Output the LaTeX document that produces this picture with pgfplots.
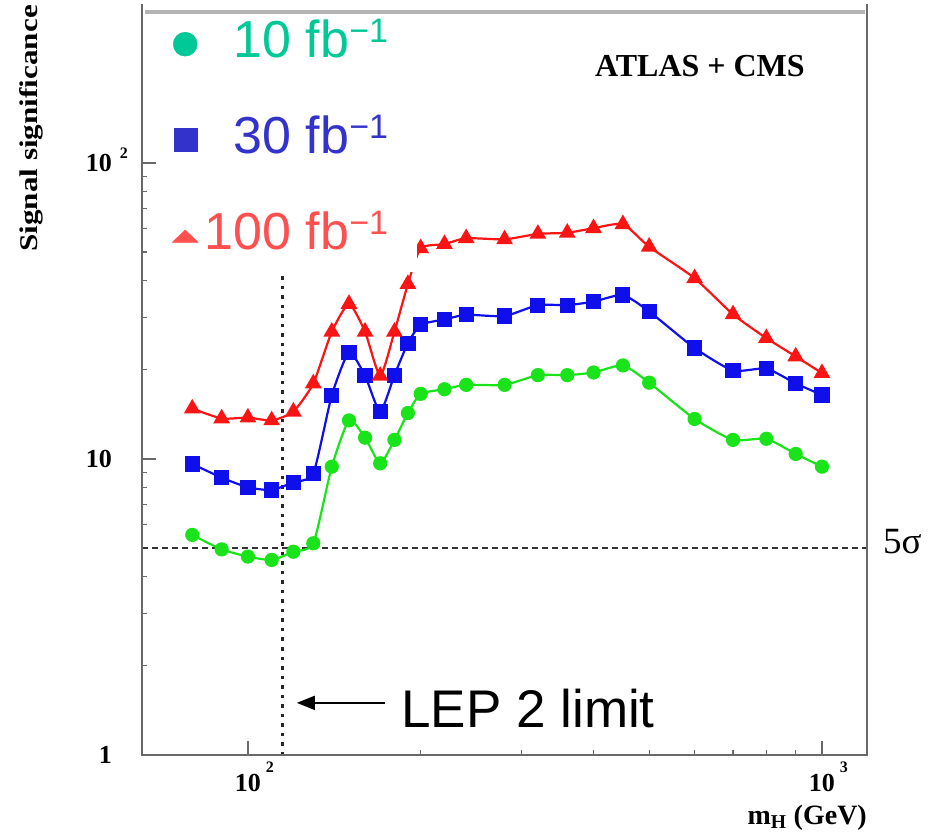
\documentclass[border=0pt]{standalone}
\usepackage{fontspec}
\setmainfont{Liberation Serif}
\newfontfamily\arial{Liberation Sans}
\usepackage{graphicx}
\usepackage{pgfplots}
\usepackage{pgfplotstable}
\pgfplotsset{compat=1.18}
\usetikzlibrary{arrows.meta}

\definecolor{cGreen}{RGB}{25,228,25}
\definecolor{cBlue}{RGB}{15,15,235}
\definecolor{cRed}{RGB}{250,20,20}
\definecolor{lGreen}{RGB}{0,200,150}
\definecolor{lBlue}{RGB}{51,51,204}
\definecolor{lRed}{RGB}{255,80,80}
\definecolor{frame}{RGB}{105,105,105}
\definecolor{topline}{RGB}{180,180,180}

\newcommand\fbinv[1]{#1 fb\raisebox{15bp}{\fontsize{34bp}{34bp}\selectfont −1}}
\newcommand\xexp[1]{10\rlap{\smash{\hspace{5bp}\raisebox{19bp}{\fontsize{16bp}{16bp}\selectfont #1}}}}
\newcommand\yexp[1]{10\rlap{\smash{\hspace{8bp}\raisebox{13bp}{\fontsize{16bp}{16bp}\selectfont #1}}}}

% m_H (GeV), significance for 10, 30, 100 fb^-1
\pgfplotstableread{
m    s10   s30   s100
80   5.54  9.62  14.8
90   4.95  8.65  13.7
100  4.68  8.02  13.8
110  4.56  7.86  13.5
120  4.86  8.34  14.45
130  5.19  8.95  18.0
140  9.42  16.4  26.9
150  13.5  22.9  33.4
160  11.8  19.1  26.9
170  9.67  14.45 19.1
180  11.6  19.2  26.9
190  14.3  24.6  39.0
200  16.6  28.4  51.5
220  17.2  29.6  53.2
240  17.8  30.7  55.7
280  17.8  30.4  55.2
320  19.2  33.1  57.6
360  19.2  33.1  58.1
400  19.6  34.0  60.2
450  20.7  35.8  62.1
500  18.1  31.5  52.1
600  13.65 23.7  40.8
700  11.6  19.9  30.8
800  11.7  20.2  25.6
900  10.4  18.0  22.2
1000 9.42  16.45 19.5
}\sig

\begin{document}
\begin{tikzpicture}
\begin{axis}[
  scale only axis,
  width=725bp, height=743bp,
  xmode=log, ymode=log,
  xmin=65.4, xmax=1198, ymin=1, ymax=323.6,
  clip=false,
  axis line style={draw=none},
  tick align=inside, tick pos=left,
  major tick length=14bp, minor tick length=5bp,
  tick style={frame, line width=1.2bp},
  xtick={100,1000}, ytick={1,10,100},
  xticklabels={\xexp{2},\xexp{3}},
  yticklabels={1,10,\yexp{2}},
  ticklabel style={font=\bfseries\fontsize{26bp}{26bp}\selectfont, inner sep=0pt},
  xticklabel style={yshift=-19bp},
  yticklabel style={xshift=-30bp},
  legend style={at={(rel axis cs:0,1)}, anchor=north west, xshift=15bp, yshift=-8bp,
    fill=white, draw=none, inner xsep=15bp, inner ysep=0pt,
    font=\arial\fontsize{52bp}{52bp}\selectfont,
    row sep=36bp, column sep=6.6bp,
    cells={anchor=east},
    nodes={inner sep=0pt, text height=37bp, text depth=23bp}},
]
% reference lines: 5 sigma and LEP 2 limit
\addplot[black!80, line width=2bp, dash pattern=on 6bp off 4bp, forget plot]
  coordinates {(65.4,5) (1198,5)};
\addplot[black!85, line width=2.5bp, dash pattern=on 3.5bp off 6bp, forget plot]
  coordinates {(115,1) (115,60)};

\addplot[cGreen, line width=2.2bp, smooth, tension=0.35, mark=*, mark size=6bp, forget plot]
  table[x=m, y=s10] {\sig};
\addplot[cBlue, line width=2.2bp, smooth, tension=0.35, mark=square*, mark size=6.5bp, forget plot]
  table[x=m, y=s30] {\sig};
\addplot[cRed, line width=2.2bp, smooth, tension=0.35, mark=triangle*, mark size=7.5bp, forget plot]
  table[x=m, y=s100] {\sig};

\addlegendimage{only marks, mark=*, mark size=12bp, lGreen, mark options={yshift=6bp}}
\addlegendentry{\textcolor{lGreen}{\fbinv{10}}\hspace*{14bp}}
\addlegendimage{only marks, mark=square*, mark size=11.5bp, lBlue, mark options={yshift=6bp}}
\addlegendentry{\textcolor{lBlue}{\fbinv{30}}\hspace*{14bp}}
\addlegendimage{only marks, mark=triangle*, mark size=15bp, lRed, mark options={yshift=4bp, yscale=0.55}}
\addlegendentry{\textcolor{lRed}{\fbinv{100}}\hspace*{14bp}}

% texts
\node[anchor=base, inner sep=0pt, font=\bfseries\fontsize{32bp}{32bp}\selectfont]
  at (axis cs:613,195.2) {ATLAS + CMS};
\node[anchor=base west, inner sep=0pt, xshift=16bp, font=\fontsize{37bp}{37bp}\selectfont]
  at (axis cs:1198,4.81) {5σ};
\node[anchor=base west, inner sep=0pt, font=\arial\fontsize{53bp}{53bp}\selectfont]
  at (axis cs:185,1.234) {LEP 2 limit};
\draw[-{Triangle[length=18bp,width=14bp]}, line width=1.8bp]
  (axis cs:173,1.5) -- (axis cs:121.7,1.5);
\node[xshift=-99bp, yshift=7bp, rotate=90, anchor=south east, inner sep=0pt,
  font=\bfseries\fontsize{25.5bp}{25.5bp}\selectfont] at (rel axis cs:0,1)
  {\scalebox{1.22}[1]{Signal significance}};
\node[anchor=north east, inner sep=0pt, yshift=-50bp,
  font=\bfseries\fontsize{28bp}{28bp}\selectfont] at (rel axis cs:1,0) {m\textsubscript{H} (GeV)};
\end{axis}
% frame
\draw[frame, line width=1.8bp] ([yshift=8bp]current axis.north west) -- (current axis.south west)
  -- (current axis.south east) -- ([yshift=8bp]current axis.north east);
\draw[topline, line width=4bp] ([xshift=3bp]current axis.north west)
  -- ([xshift=-2bp]current axis.north east);
\pgfresetboundingbox
\path[use as bounding box] (current axis.south west) ++(-142bp,-78bp)
  rectangle ([shift={(74bp,12bp)}]current axis.north east);
\end{tikzpicture}
\end{document}
